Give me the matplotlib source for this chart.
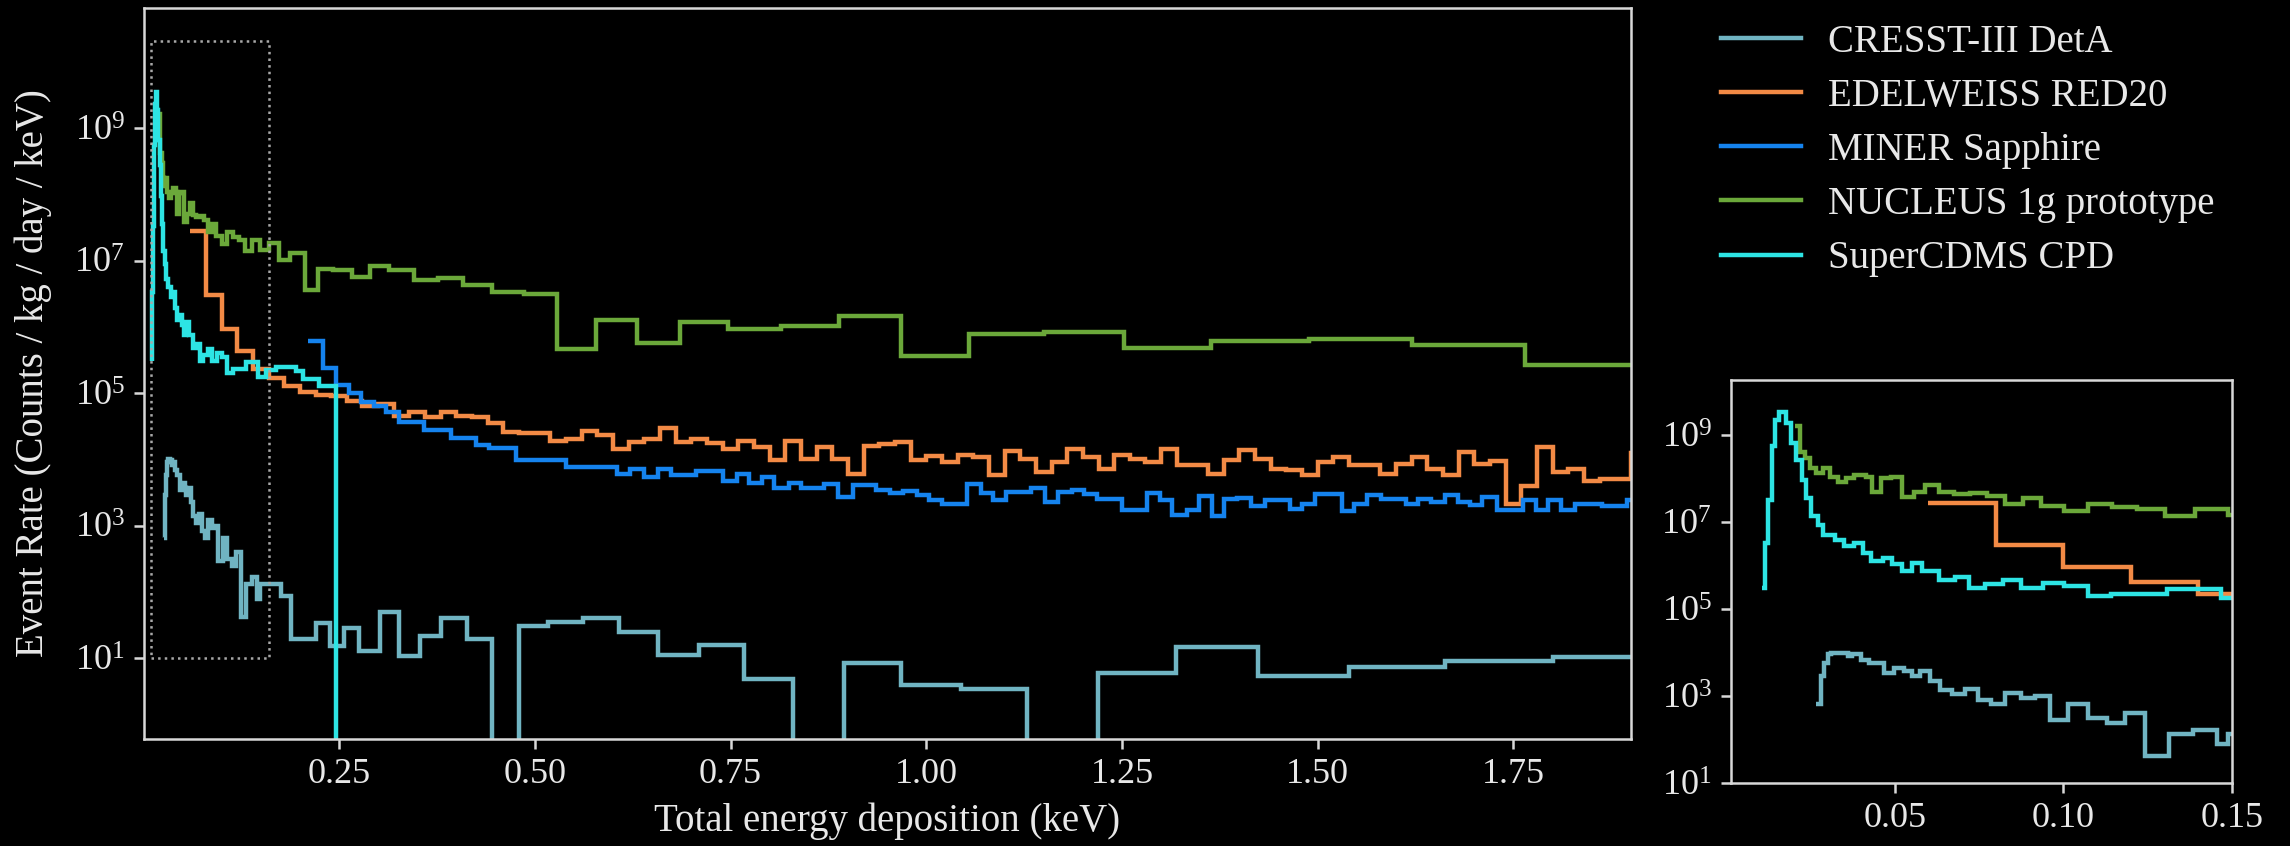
import numpy as np
import matplotlib
matplotlib.use("Agg")
import matplotlib.pyplot as plt
from matplotlib.patches import Rectangle
from matplotlib.ticker import NullLocator, FixedLocator, FormatStrFormatter

# step histograms
# *_left = left bin edges (keV), *_end = last right edge,
# *_exp = log10 of the rate in each bin, None = empty bin

cresst_left = [0.0268, 0.0282, 0.0292, 0.0302, 0.0312, 0.0336, 0.0361, 0.0375, 0.0400, 0.0425,
               0.0469, 0.0498, 0.0527, 0.0552, 0.0576, 0.0606, 0.0635, 0.0670, 0.0709, 0.0748,
               0.0787, 0.0826, 0.0875, 0.0915, 0.0959, 0.1013, 0.1072, 0.1130, 0.1184, 0.1243,
               0.1312, 0.1385, 0.1454, 0.1488, 0.1760, 0.1890, 0.2210, 0.2380, 0.2570, 0.2760,
               0.3020, 0.3270, 0.3530, 0.3800, 0.4140, 0.4460, 0.4800, 0.5170, 0.5620, 0.6080,
               0.6580, 0.7100, 0.7670, 0.8300, 0.8950, 0.9680, 1.0450, 1.1290, 1.2190, 1.3190,
               1.4240, 1.5400, 1.6630, 1.8000]
cresst_end = 1.95
cresst_exp = [2.81, 3.46, 3.77, 3.96, 4.00, 3.99, 3.92, 3.96, 3.84, 3.77,
              3.54, 3.65, 3.57, 3.46, 3.57, 3.35, 3.15, 3.04, 3.17, 2.92,
              2.81, 3.08, 2.96, 3.00, 2.46, 2.81, 2.50, 2.39, 2.60, 1.62,
              2.12, 2.23, 1.89, 2.12, 1.93, 1.28, 1.53, 1.18, 1.45, 1.10,
              1.70, 1.03, 1.33, 1.60, 1.28, None, 1.49, 1.55, 1.61, 1.39,
              1.05, 1.19, 0.68, None, 0.93, 0.59, 0.53, None, 0.78, 1.16,
              0.73, 0.86, 0.95, 1.02]

edel_left = [round(0.06 + 0.02 * i, 2) for i in range(93)]
edel_end = 1.92
edel_exp = [7.44, 6.48, 5.97, 5.63, 5.36, 5.23, 5.10, 5.02, 4.97, 4.95, 4.88,
            4.80, 4.83, 4.66, 4.72, 4.64, 4.72, 4.66, 4.64, 4.55, 4.42, 4.40,
            4.40, 4.28, 4.31, 4.43, 4.36, 4.15, 4.26, 4.31, 4.48, 4.26, 4.31,
            4.25, 4.15, 4.28, 4.18, 3.99, 4.27, 4.01, 4.18, 4.01, 3.78, 4.20,
            4.23, 4.26, 3.99, 4.05, 3.96, 4.07, 4.04, 3.76, 4.12, 4.01, 3.81,
            3.96, 4.15, 4.04, 3.86, 4.07, 4.01, 3.96, 4.15, 3.92, 3.91, 3.78,
            3.99, 4.14, 4.01, 3.86, 3.84, 3.77, 3.96, 4.04, 3.91, 3.91, 3.78,
            3.93, 4.04, 3.86, 3.76, 4.11, 3.93, 3.98, 3.32, 3.59, 4.18, 3.81,
            3.86, 3.68, 3.70, 3.70, 4.10]

miner_left = [0.2103, 0.2294, 0.2464, 0.2634, 0.2783, 0.2953, 0.3100, 0.3270, 0.3590, 0.3930,
              0.4250, 0.4420, 0.4760, 0.5080, 0.5396, 0.5783, 0.6056, 0.6216, 0.6398, 0.6580,
              0.6739, 0.7058, 0.7399, 0.7581, 0.7741, 0.7900, 0.8059, 0.8241, 0.8401, 0.8696,
              0.8878, 0.9061, 0.9356, 0.9538, 0.9698, 0.9880, 1.0039, 1.0198, 1.0517, 1.0699,
              1.0858, 1.1018, 1.1336, 1.1518, 1.1678, 1.1860, 1.2019, 1.2187, 1.2506, 1.2825,
              1.2984, 1.3143, 1.3325, 1.3485, 1.3644, 1.3803, 1.3963, 1.4145, 1.4327, 1.4645,
              1.4805, 1.4964, 1.5305, 1.5465, 1.5624, 1.5806, 1.6125, 1.6284, 1.6443, 1.6625,
              1.6785, 1.6944, 1.7103, 1.7285, 1.7627, 1.7786, 1.7945, 1.8104, 1.8287, 1.8628,
              1.8946]
miner_end = 1.92
miner_exp = [5.78, 5.38, 5.12, 5.00, 4.87, 4.80, 4.72, 4.57, 4.44, 4.32,
             4.22, 4.17, 3.99, 3.99, 3.88, 3.89, 3.78, 3.85, 3.74, 3.85,
             3.76, 3.83, 3.68, 3.78, 3.65, 3.73, 3.57, 3.65, 3.57, 3.62,
             3.43, 3.61, 3.54, 3.49, 3.52, 3.46, 3.39, 3.32, 3.63, 3.49,
             3.38, 3.50, 3.57, 3.36, 3.51, 3.54, 3.47, 3.40, 3.24, 3.49,
             3.39, 3.16, 3.24, 3.45, 3.15, 3.40, 3.42, 3.30, 3.39, 3.25,
             3.32, 3.47, 3.22, 3.32, 3.46, 3.40, 3.32, 3.40, 3.35, 3.46,
             3.36, 3.31, 3.43, 3.24, 3.38, 3.24, 3.39, 3.24, 3.32, 3.30,
             3.38]

nucleus_left = [0.0204, 0.0219, 0.0233, 0.0248, 0.0268, 0.0287, 0.0307, 0.0332, 0.0356, 0.0380,
                0.0415, 0.0434, 0.0459, 0.0488, 0.0523, 0.0557, 0.0591, 0.0630, 0.0675, 0.0724,
                0.0773, 0.0826, 0.0880, 0.0934, 0.1003, 0.1072, 0.1145, 0.1219, 0.1302, 0.1390,
                0.1488, 0.1600, 0.1740, 0.1870, 0.2060, 0.2230, 0.2420, 0.2660, 0.2890, 0.3140,
                0.3460, 0.3760, 0.4080, 0.4460, 0.4860, 0.5290, 0.5780, 0.6310, 0.6850, 0.7470,
                0.8150, 0.8880, 0.9680, 1.0540, 1.1500, 1.2530, 1.3640, 1.4890, 1.6210, 1.7650]
nucleus_end = 1.92
nucleus_exp = [9.21, 8.63, 8.48, 8.25, 8.13, 8.25, 8.04, 7.94, 8.02, 8.10,
               8.04, 7.71, 8.02, 8.04, 7.58, 7.71, 7.87, 7.69, 7.66, 7.67,
               7.61, 7.43, 7.56, 7.37, 7.25, 7.43, 7.35, 7.31, 7.15, 7.31,
               7.16, 7.26, 7.01, 7.11, 6.56, 6.88, 6.86, 6.76, 6.92, 6.86,
               6.71, 6.73, 6.63, 6.53, 6.50, 5.67, 6.10, 5.75, 6.08, 5.97,
               6.01, 6.17, 5.56, 5.89, 5.92, 5.68, 5.79, 5.82, 5.72, 5.43]

cdms_left = [0.0106, 0.0115, 0.0125, 0.0135, 0.0145, 0.0158, 0.0179, 0.0194, 0.0209, 0.0224,
             0.0238, 0.0253, 0.0273, 0.0287, 0.0322, 0.0351, 0.0380, 0.0405, 0.0429, 0.0464,
             0.0493, 0.0523, 0.0552, 0.0581, 0.0630, 0.0679, 0.0719, 0.0768, 0.0822, 0.0875,
             0.0939, 0.1003, 0.1072, 0.1140, 0.1307, 0.1466, 0.1570, 0.1700, 0.1955, 0.2040,
             0.2250, 0.2464]
cdms_end = 0.27
cdms_exp = [5.49, 6.52, 7.52, 8.75, 9.36, 9.55, 9.28, 8.82, 8.44, 7.98,
            7.56, 7.14, 6.95, 6.72, 6.60, 6.45, 6.52, 6.29, 6.10, 6.18,
            6.03, 5.87, 6.07, 5.87, 5.68, 5.74, 5.49, 5.57, 5.67, 5.49,
            5.61, 5.54, 5.31, 5.36, 5.47, 5.25, 5.35, 5.39, 5.33, 5.22,
            5.10, None]

labels = ["CRESST-III DetA", "EDELWEISS RED20", "MINER Sapphire",
          "NUCLEUS 1g prototype", "SuperCDMS CPD"]
colors = ["#70b4c2", "#f28a45", "#1583ee", "#6ba83a", "#2de4e4"]
lefts = [cresst_left, edel_left, miner_left, nucleus_left, cdms_left]
ends = [cresst_end, edel_end, miner_end, nucleus_end, cdms_end]
exps = [cresst_exp, edel_exp, miner_exp, nucleus_exp, cdms_exp]


def to_rate(e):
    return np.array([0.0 if v is None else 10.0 ** v for v in e])


fg = "#e8e8e8"
plt.rcParams["font.family"] = ["Liberation Serif", "DejaVu Serif"]
plt.rcParams["mathtext.fontset"] = "stix"

fig = plt.figure(figsize=(11.45, 4.23), dpi=200, facecolor="black")
ax = fig.add_axes([0.0629, 0.1265, 0.6493, 0.864])
axin = fig.add_axes([0.7559, 0.0745, 0.2188, 0.4764])

for a in (ax, axin):
    a.set_facecolor("black")
    for i in range(5):
        a.stairs(to_rate(exps[i]), lefts[i] + [ends[i]], baseline=None,
                 color=colors[i], lw=1.6, label=labels[i])
    a.set_yscale("log")
    a.yaxis.set_major_locator(FixedLocator([1e1, 1e3, 1e5, 1e7, 1e9]))
    a.yaxis.set_minor_locator(NullLocator())
    a.xaxis.set_minor_locator(NullLocator())
    for s in a.spines.values():
        s.set_color("#d8d8d8")
        s.set_linewidth(0.9)
    a.tick_params(colors="#d8d8d8", labelcolor=fg, labelsize=13, width=0.9, length=3.5)

ax.set_xlim(0.001, 1.9)
ax.set_ylim(0.6, 6.5e10)
ax.set_xticks([0.25, 0.5, 0.75, 1.0, 1.25, 1.5, 1.75])
ax.xaxis.set_major_formatter(FormatStrFormatter("%.2f"))
ax.set_xlabel("Total energy deposition (keV)", color=fg, fontsize=14, labelpad=4)
ax.set_ylabel("Event Rate (Counts / kg / day / keV)", color=fg, fontsize=14, labelpad=8)
ax.add_patch(Rectangle((0.01, 10), 0.15, 2.1e10 - 10, fill=False,
                       ls=":", lw=0.9, ec="#a8a8a8"))

axin.set_xlim(0.0015, 0.15)
axin.set_ylim(10, 1.9e10)
axin.set_xticks([0.05, 0.10, 0.15])
axin.xaxis.set_major_formatter(FormatStrFormatter("%.2f"))

h, l = ax.get_legend_handles_labels()
leg = fig.legend(h, l, loc="upper left", bbox_to_anchor=(0.7515, 0.972),
                 frameon=False, fontsize=14, handlelength=2.05, handletextpad=0.7,
                 labelspacing=0.44, borderpad=0, borderaxespad=0)
for t in leg.get_texts():
    t.set_color(fg)

fig.savefig("out.png", dpi=200, facecolor="black")
